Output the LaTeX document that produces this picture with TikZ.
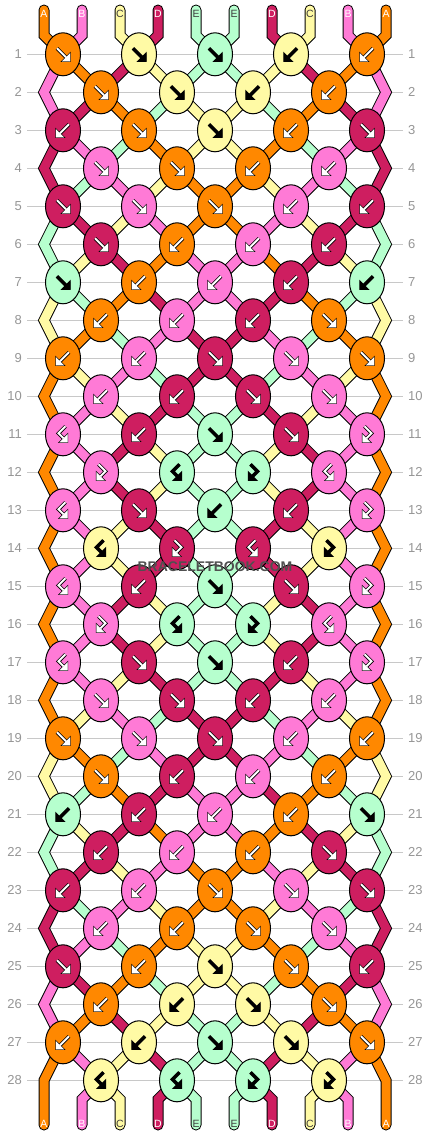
\documentclass[tikz,border=0pt]{standalone}
\usepackage{fontspec}
\setmainfont{Liberation Sans}
\usetikzlibrary{shapes.geometric}
\definecolor{cA}{RGB}{255,136,0}
\definecolor{cB}{RGB}{255,122,214}
\definecolor{cC}{RGB}{255,250,165}
\definecolor{cD}{RGB}{206,30,96}
\definecolor{cE}{RGB}{182,255,206}
\colorlet{iA}{white}\colorlet{iB}{white}\colorlet{iC}{black}\colorlet{iD}{white}\colorlet{iE}{black}
\colorlet{tA}{white}\colorlet{tB}{white}\definecolor{tC}{RGB}{60,60,60}\colorlet{tD}{white}\definecolor{tE}{RGB}{60,60,60}
\definecolor{lgray}{RGB}{200,200,200}
\definecolor{labgray}{RGB}{150,150,150}
\definecolor{wm}{RGB}{80,80,80}
\pgfdeclarelayer{lines}
\pgfdeclarelayer{back}
\pgfsetlayers{lines,back,main}
\newcommand\ktf[3]{\draw[#1,line width=#2,line cap=square,line join=miter] (-6,-6) -- (3,3);
  \filldraw[#1,line width=#3,line join=miter] (7,7) -- (7,-1) -- (-1,7) -- cycle;}
\newcommand\ktb[3]{\draw[#1,line width=#2,line cap=square,line join=miter] (6,-6) -- (-3,3);
  \filldraw[#1,line width=#3,line join=miter] (-7,7) -- (-7,-1) -- (1,7) -- cycle;}
\newcommand\ktfb[3]{\draw[#1,line width=#2,line cap=square,line join=miter] (-2.5,-8) -- (4.5,-1) -- (-0.5,4);
  \filldraw[#1,line width=#3,line join=miter] (-4.5,8) -- (-4.5,0) -- (3.5,8) -- cycle;}
\newcommand\ktbf[3]{\draw[#1,line width=#2,line cap=square,line join=miter] (2.5,-8) -- (-4.5,-1) -- (0.5,4);
  \filldraw[#1,line width=#3,line join=miter] (4.5,8) -- (4.5,0) -- (-3.5,8) -- cycle;}
\newcommand\kicon[4]{\begin{scope}[shift={(#2,#3)}]
  \csname kt#1\endcsname{black}{3.6}{1.3}
  \csname kt#1\endcsname{#4}{2}{0.01}
\end{scope}}
\begin{document}
\begin{tikzpicture}[x=1pt,y=-1pt,
  knot/.style={ellipse, draw=black, line width=1pt, minimum width=35pt, minimum height=43pt, inner sep=0pt},
  seg/.style={double=#1, double distance=9pt, line width=1pt, line join=miter},
  rowline/.style={draw=lgray, line width=1pt},
  rowlab/.style={text=labgray, font=\fontsize{13}{13}\selectfont, inner sep=0pt},
  endlab/.style={font=\fontsize{10.5}{10.5}\selectfont, inner sep=0pt}]
\useasboundingbox (0,0) rectangle (430,1136);
% row lines and labels
\begin{pgfonlayer}{lines}
\fill[white] (0,0) rectangle (430,1136);
\foreach \rw in {1,...,28} {
  \pgfmathsetmacro\yy{54.3+38*(\rw-1)}
  \draw[rowline] (27,\yy) -- (403,\yy);
}
\end{pgfonlayer}
\foreach \rw in {1,...,28} {
  \pgfmathsetmacro\yy{54.3+38*(\rw-1)}
  \node[rowlab, anchor=east] (L\rw) at (22,\yy) {\rw};
  \node[rowlab, anchor=west] (R\rw) at (408,\yy) {\rw};
}
% edge vertices
\foreach \rw in {2,4,...,28} {
  \pgfmathsetmacro\yy{54.3+38*(\rw-1)}
  \coordinate (eL\rw) at (44,\yy);
  \coordinate (eR\rw) at (386,\yy);
}
% top and bottom end points
\foreach \pp in {1,...,10} {
  \pgfmathsetmacro\xx{44+38*(\pp-1)}
  \coordinate (t\pp) at (\xx,10);
  \coordinate (tb\pp) at (\xx,35.3);
  \coordinate (bb\pp) at (\xx,1099.3);
  \coordinate (b\pp) at (\xx,1125);
}
% knots
\foreach \rw/\kl in {
 1/{f/A,f/C,f/E,b/C,b/A},
 2/{f/A,f/C,b/C,b/A},
 3/{b/D,f/A,f/C,b/A,f/D},
 4/{f/B,f/A,b/A,b/B},
 5/{f/D,f/B,f/A,b/B,b/D},
 6/{f/D,b/A,b/B,b/D},
 7/{f/E,b/A,b/B,b/D,b/E},
 8/{b/A,b/B,b/D,f/A},
 9/{b/A,b/B,f/D,f/B,f/A},
 10/{b/B,b/D,f/D,f/B},
 11/{bf/B,b/D,f/E,f/D,fb/B},
 12/{fb/B,bf/E,fb/E,bf/B},
 13/{bf/B,f/D,b/E,b/D,fb/B},
 14/{bf/C,fb/D,bf/D,fb/C},
 15/{bf/B,b/D,f/E,f/D,fb/B},
 16/{fb/B,bf/E,fb/E,bf/B},
 17/{bf/B,f/D,f/E,b/D,fb/B},
 18/{f/B,f/D,b/D,b/B},
 19/{f/A,f/B,f/D,b/B,b/A},
 20/{f/A,b/D,b/B,b/A},
 21/{b/E,b/D,b/B,b/A,f/E},
 22/{b/D,b/B,b/A,f/D},
 23/{b/D,b/B,f/A,f/B,f/D},
 24/{b/B,b/A,f/A,f/B},
 25/{f/D,b/A,f/C,f/A,b/D},
 26/{b/A,b/C,f/C,f/A},
 27/{b/A,b/C,f/E,f/C,f/A},
 28/{bf/C,bf/E,fb/E,fb/C}} {
  \pgfmathsetmacro\yy{54.3+38*(\rw-1)}
  \foreach \kt/\kc [count=\ki] in \kl {
    \pgfmathsetmacro\xx{(mod(\rw,2)==1 ? 63 : 101)+76*(\ki-1)}
    \node[knot, fill=c\kc] (k\rw-\ki) at (\xx,\yy) {};
    \kicon{\kt}{\xx}{\yy}{i\kc}
  }
}
% strings
\begin{pgfonlayer}{back}
% top
\foreach \kc [count=\pp] in {A,B,C,D,E,E,D,C,B,A} {
  \pgfmathtruncatemacro\ia{ceil(\pp/2)}
  \draw[seg=c\kc, line cap=round] (t\pp) -- (tb\pp) -- (k1-\ia.center);
}
% bottom
\foreach \kc [count=\pp] in {A,B,C,D,E,E,D,C,B,A} {
  \ifnum\pp>1\relax\ifnum\pp<10\relax
    \pgfmathtruncatemacro\ia{floor(\pp/2)}
    \draw[seg=c\kc, line cap=round] (k28-\ia.center) -- (bb\pp) -- (b\pp);
  \fi\fi
}
\foreach \rw/\lst in {
 1/{B,A,D,C,E,E,C,D,A,B},
 2/{B,D,A,E,C,C,E,A,D,B},
 3/{D,B,E,A,C,C,A,E,B,D},
 4/{D,E,B,C,A,A,C,B,E,D},
 5/{E,D,C,B,A,A,B,C,D,E},
 6/{E,C,D,A,B,B,A,D,C,E},
 7/{C,E,A,D,B,B,D,A,E,C},
 8/{C,A,E,B,D,D,B,E,A,C},
 9/{A,C,B,E,D,D,E,B,C,A},
 10/{A,B,C,D,E,E,D,C,B,A},
 11/{A,B,D,C,E,E,C,D,B,A},
 12/{A,B,D,C,E,E,C,D,B,A},
 13/{A,B,C,D,E,E,D,C,B,A},
 14/{A,B,C,D,E,E,D,C,B,A},
 15/{A,B,D,C,E,E,C,D,B,A},
 16/{A,B,D,C,E,E,C,D,B,A},
 17/{A,B,C,D,E,E,D,C,B,A},
 18/{A,C,B,E,D,D,E,B,C,A},
 19/{C,A,E,B,D,D,B,E,A,C},
 20/{C,E,A,D,B,B,D,A,E,C},
 21/{E,C,D,A,B,B,A,D,C,E},
 22/{E,D,C,B,A,A,B,C,D,E},
 23/{D,E,B,C,A,A,C,B,E,D},
 24/{D,B,E,A,C,C,A,E,B,D},
 25/{B,D,A,E,C,C,E,A,D,B},
 26/{B,A,D,C,E,E,C,D,A,B},
 27/{A,B,C,D,E,E,D,C,B,A}} {
  \pgfmathtruncatemacro\rn{\rw+1}
  \pgfmathtruncatemacro\rnn{\rw+2}
  \foreach \kc [count=\pp] in \lst {
    \ifnum\pp>1\relax\ifnum\pp<10\relax
      \pgfmathtruncatemacro\ia{mod(\rw,2)==1 ? ceil(\pp/2) : floor(\pp/2)}
      \pgfmathtruncatemacro\ib{mod(\rw,2)==1 ? floor(\pp/2) : ceil(\pp/2)}
      \draw[seg=c\kc] (k\rw-\ia.center) -- (k\rn-\ib.center);
    \fi\fi
    \ifodd\rw\relax
      \ifnum\pp=1\relax
        \ifnum\rw<27\relax
          \draw[seg=c\kc] (k\rw-1.center) -- (eL\rn) -- (k\rnn-1.center);
        \else
          \draw[seg=c\kc, line cap=round] (k\rw-1.center) -- (eL\rn) -- (b1);
        \fi
      \fi
      \ifnum\pp=10\relax
        \ifnum\rw<27\relax
          \draw[seg=c\kc] (k\rw-5.center) -- (eR\rn) -- (k\rnn-5.center);
        \else
          \draw[seg=c\kc, line cap=round] (k\rw-5.center) -- (eR\rn) -- (b10);
        \fi
      \fi
    \fi
  }
}
\end{pgfonlayer}
% end labels
\foreach \kc [count=\pp] in {A,B,C,D,E,E,D,C,B,A} {
  \pgfmathsetmacro\xx{44+38*(\pp-1)}
  \node[endlab, text=t\kc] (lt\pp) at (\xx,13.5) {\kc};
  \node[endlab, text=t\kc] (lb\pp) at (\xx,1123.5) {\kc};
}
\node[font=\bfseries\fontsize{14}{14}\selectfont, text=wm, inner sep=0pt] (wmark) at (215,567) {BRACELETBOOK.COM};
\end{tikzpicture}
\end{document}
